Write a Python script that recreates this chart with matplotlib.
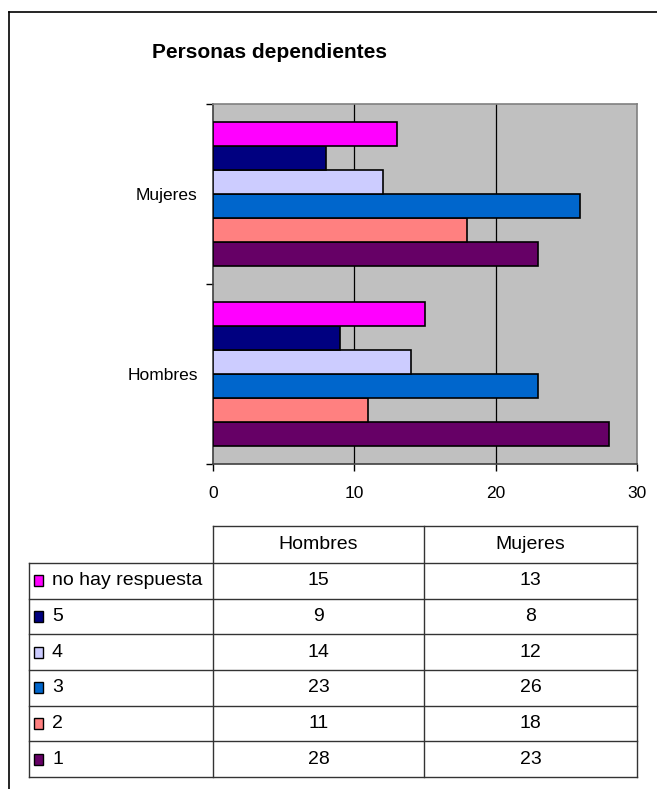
import numpy as np
import matplotlib
matplotlib.use("Agg")
import matplotlib.pyplot as plt
from matplotlib.patches import Rectangle
from matplotlib.lines import Line2D

plt.rcParams['font.family'] = ['Liberation Sans', 'DejaVu Sans']

# data
groups = ["Hombres", "Mujeres"]
series = ["1", "2", "3", "4", "5", "no hay respuesta"]
values = {
    "1": [28, 23],
    "2": [11, 18],
    "3": [23, 26],
    "4": [14, 12],
    "5": [9, 8],
    "no hay respuesta": [15, 13],
}
colors = {
    "1": "#660066",
    "2": "#FF8080",
    "3": "#0066CC",
    "4": "#CCCCFF",
    "5": "#000080",
    "no hay respuesta": "#FF00FF",
}
xticks = [0, 10, 20, 30]

W, H = 657, 789
fig = plt.figure(figsize=(W / 100, H / 100), dpi=100)

def px_rect(x0, y0, x1, y1):
    # pixel box (top-left origin) -> figure fraction rect
    return [x0 / W, 1 - y1 / H, (x1 - x0) / W, (y1 - y0) / H]

# outer frame (cropped at right and bottom)
fig.add_artist(Line2D([9 / W, 9 / W], [0, 1 - 12 / H], color="black", lw=1.2))
fig.add_artist(Line2D([9 / W, 1], [1 - 12 / H, 1 - 12 / H], color="black", lw=1.2))

fig.text(270 / W, 1 - 52 / H, "Personas dependientes", fontsize=15,
         fontweight="bold", ha="center", va="center")

# bar chart
ax = fig.add_axes(px_rect(213, 104, 637, 464))
ax.set_facecolor("#C0C0C0")
n = len(series)
bh = 0.134
start = -n * bh / 2 + bh / 2
ypos = np.arange(len(groups))
for i, s in enumerate(series):
    ax.barh(ypos + start + i * bh, values[s], height=bh, color=colors[s],
            edgecolor="black", linewidth=1.2, zorder=3)

ax.set_xlim(0, 30)
ax.set_ylim(-0.5, 1.5)
ax.set_xticks(xticks)
ax.set_xticklabels([str(t) for t in xticks], fontsize=12.5)
ax.set_yticks([-0.5, 0.5, 1.5])
ax.set_yticklabels([])
ax.set_yticks(ypos, minor=True)
ax.set_yticklabels(groups, minor=True, fontsize=12.5)
ax.tick_params(axis="y", which="minor", length=0, pad=11)
ax.tick_params(axis="y", which="major", length=5, width=1, direction="out")
ax.tick_params(axis="x", length=5, width=1, direction="out", pad=11)
for x in xticks[1:-1]:
    ax.axvline(x, color="black", lw=0.9, zorder=1)
ax.spines["top"].set_color("#808080")
ax.spines["right"].set_color("#808080")
ax.spines["left"].set_color("#404040")
ax.spines["bottom"].set_color("#404040")
for sp in ax.spines.values():
    sp.set_linewidth(1.2)

# data table
tx0, tx1, tx2, tx3 = 29, 213, 424, 637
ty_top = 526
ty_head = 563
row_h = (777 - 563) / n
tab = fig.add_axes([0, 0, 1, 1], facecolor="none")
tab.set_xlim(0, W)
tab.set_ylim(H, 0)
tab.axis("off")
lc = "#333333"
fs = 14
tab.plot([tx1, tx3], [ty_top, ty_top], color=lc, lw=1)
for x in (tx1, tx2, tx3):
    tab.plot([x, x], [ty_top, 777], color=lc, lw=1)
tab.plot([tx0, tx0], [ty_head, 777], color=lc, lw=1)
for k in range(n + 1):
    y = ty_head + k * row_h
    tab.plot([tx0, tx3], [y, y], color=lc, lw=1)
tab.text((tx1 + tx2) / 2, (ty_top + ty_head) / 2, groups[0], ha="center", va="center", fontsize=fs)
tab.text((tx2 + tx3) / 2, (ty_top + ty_head) / 2, groups[1], ha="center", va="center", fontsize=fs)
for k, s in enumerate(series[::-1]):
    yc = ty_head + (k + 0.5) * row_h
    tab.add_patch(Rectangle((34, yc - 5.5), 9, 11, facecolor=colors[s],
                            edgecolor="black", lw=1))
    tab.text(52, yc, s, ha="left", va="center", fontsize=fs)
    tab.text((tx1 + tx2) / 2, yc, str(values[s][0]), ha="center", va="center", fontsize=fs)
    tab.text((tx2 + tx3) / 2, yc, str(values[s][1]), ha="center", va="center", fontsize=fs)

fig.savefig("out.png", dpi=100)
